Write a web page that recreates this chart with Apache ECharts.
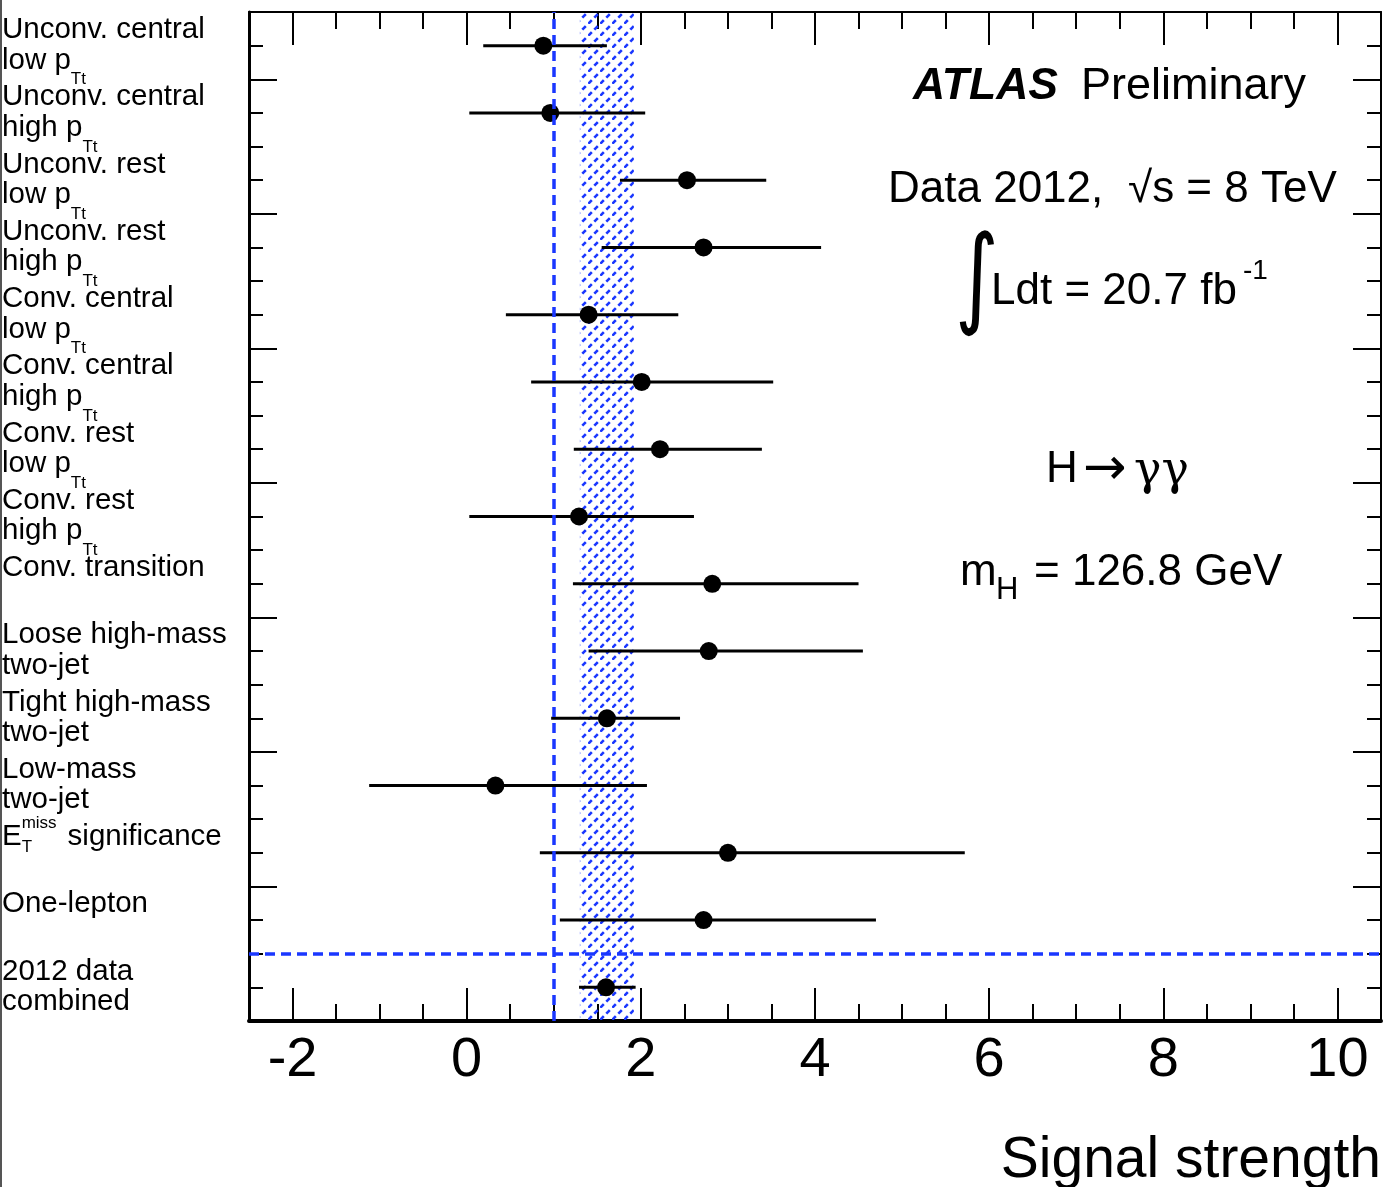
<!DOCTYPE html>
<html>
<head>
<meta charset="utf-8">
<script src="https://cdn.jsdelivr.net/npm/echarts@6/dist/echarts.min.js"></script>
<style>
html,body{margin:0;padding:0;background:#fff;}
#c{width:1385px;height:1187px;}
</style>
</head>
<body>
<div id="c"></div>
<script>
// ---------------- data ----------------
const categories = [
  'Unconv. central low pTt', 'Unconv. central high pTt', 'Unconv. rest low pTt', 'Unconv. rest high pTt',
  'Conv. central low pTt', 'Conv. central high pTt', 'Conv. rest low pTt', 'Conv. rest high pTt',
  'Conv. transition', 'Loose high-mass two-jet', 'Tight high-mass two-jet', 'Low-mass two-jet',
  'ETmiss significance', 'One-lepton', '2012 data combined'
];
const labelLine1 = ['Unconv. central','Unconv. central','Unconv. rest','Unconv. rest','Conv. central','Conv. central','Conv. rest','Conv. rest','Conv. transition','Loose high-mass','Tight high-mass','Low-mass','E','One-lepton','2012 data'];
const labelLine2 = ['low p','high p','low p','high p','low p','high p','low p','high p','','two-jet','two-jet','two-jet','','','combined'];
const labelSub = ['Tt','Tt','Tt','Tt','Tt','Tt','Tt','Tt','','','','','','',''];
const muCentral = [0.88, 0.96, 2.53, 2.72, 1.40, 2.01, 2.22, 1.29, 2.82, 2.78, 1.61, 0.33, 3.00, 2.72, 1.60];
const muLow     = [0.19, 0.03, 1.76, 1.55, 0.45, 0.74, 1.23, 0.03, 1.22, 1.40, 0.97, -1.12, 0.84, 1.07, 1.29];
const muHigh    = [1.61, 2.05, 3.44, 4.07, 2.43, 3.52, 3.39, 2.61, 4.50, 4.55, 2.45, 2.07, 5.72, 4.70, 1.94];
const combinedBand = [1.30, 1.92];
const smReference = 1;
const combinedSeparator = 1;
const xTicks = [-2, 0, 2, 4, 6, 8, 10];

// ---------------- style ----------------
const FONT = "'Liberation Sans', Arial, Helvetica, sans-serif";
const BLUE = '#1a37ff';
const tickStyle = {color: '#000', width: 2};

// hatch pattern for the combined band
const pc = document.createElement('canvas');
pc.width = 12; pc.height = 12;
const g = pc.getContext('2d');
g.strokeStyle = BLUE; g.lineWidth = 2.6;
function seg(x1, y1, x2, y2) { g.beginPath(); g.moveTo(x1, y1); g.lineTo(x2, y2); g.stroke(); }
seg(0.3, 11.7, 3.8, 8.2);
seg(6.3, 5.7, 9.8, 2.2);

const labelRich = {
  a:   {fontSize: 29.5, lineHeight: 30.5, fontFamily: FONT, color: '#000'},
  sub: {fontSize: 17, lineHeight: 30.5, verticalAlign: 'top', padding: [26, 0, 0, 0], fontFamily: FONT, color: '#000'},
  subT:{fontSize: 17, lineHeight: 30.5, verticalAlign: 'top', padding: [17, 0, 0, 0], width: 0, fontFamily: FONT, color: '#000'},
  sup: {fontSize: 17, lineHeight: 30.5, verticalAlign: 'top', height: 3.5, fontFamily: FONT, color: '#000'},
  sig: {fontSize: 29.5, lineHeight: 30.5, padding: [0, 0, 0, 11], fontFamily: FONT, color: '#000'}
};

function labelFormatter(value) {
  const i = categories.indexOf(value);
  let l1;
  if (value === 'ETmiss significance') {
    l1 = '{a|E}{subT|T}{sup|miss}{sig|significance}';
  } else {
    l1 = '{a|' + labelLine1[i] + '}';
  }
  let l2 = labelLine2[i] ? '{a|' + labelLine2[i] + '}' : '{a| }';
  if (labelSub[i]) l2 += '{sub|' + labelSub[i] + '}';
  return l1 + '\n' + l2;
}

function txt(text, x, y, size, extra) {
  return {
    type: 'text', x: x, y: y, silent: true,
    style: Object.assign({
      text: text, fill: '#000', fontSize: size, fontFamily: FONT,
      align: 'left', verticalAlign: 'middle', textAlign: 'left', textVerticalAlign: 'middle'
    }, extra || {})
  };
}

const chart = echarts.init(document.getElementById('c'), null, {renderer: 'canvas'});

const integral = txt('\u222B', 955, 285, 84, {fontFamily: "'DejaVu Sans', sans-serif"});
integral.scaleY = 1.3;

const option = {
  animation: false,
  backgroundColor: '#fff',
  grid: {left: 249, right: 4, top: 12, bottom: 166, containLabel: false, outerBoundsMode: 'none'},
  xAxis: [
    {
      type: 'value', min: -2.5, max: 10.5, position: 'bottom',
      name: 'Signal strength', nameLocation: 'end', nameGap: 0,
      nameTextStyle: {fontSize: 57, fontFamily: FONT, color: '#000', align: 'right', verticalAlign: 'top', padding: [112, 0, 0, 0]},
      axisLine: {show: true, onZero: false, lineStyle: {color: '#000', width: 4}},
      axisTick: {show: true, inside: true, length: 33, lineStyle: tickStyle, customValues: xTicks},
      axisLabel: {show: true, customValues: xTicks, fontSize: 56, fontFamily: FONT, color: '#000', margin: 12},
      splitLine: {show: false}
    },
    {
      type: 'value', min: -2.5, max: 10.5, interval: 0.5, position: 'bottom',
      axisLine: {show: false, onZero: false},
      axisTick: {show: true, inside: true, length: 17, lineStyle: tickStyle},
      axisLabel: {show: false}, splitLine: {show: false}
    },
    {
      type: 'value', min: -2.5, max: 10.5, position: 'top',
      axisLine: {show: true, onZero: false, lineStyle: {color: '#000', width: 2}},
      axisTick: {show: true, inside: true, length: 33, lineStyle: tickStyle, customValues: xTicks},
      axisLabel: {show: false}, splitLine: {show: false}
    },
    {
      type: 'value', min: -2.5, max: 10.5, interval: 0.5, position: 'top',
      axisLine: {show: false, onZero: false},
      axisTick: {show: true, inside: true, length: 17, lineStyle: tickStyle},
      axisLabel: {show: false}, splitLine: {show: false}
    }
  ],
  yAxis: [
    {
      type: 'value', min: 0, max: 15, interval: 2, position: 'left',
      axisLine: {show: true, onZero: false, lineStyle: {color: '#000', width: 3}},
      axisTick: {show: true, inside: true, length: 28, lineStyle: tickStyle},
      axisLabel: {show: false}, splitLine: {show: false}
    },
    {
      type: 'value', min: 0, max: 15, interval: 0.5, position: 'left',
      axisLine: {show: false, onZero: false},
      axisTick: {show: true, inside: true, length: 14, lineStyle: tickStyle},
      axisLabel: {show: false}, splitLine: {show: false}
    },
    {
      type: 'value', min: 0, max: 15, interval: 2, position: 'right',
      axisLine: {show: true, onZero: false, lineStyle: {color: '#000', width: 2}},
      axisTick: {show: true, inside: true, length: 28, lineStyle: tickStyle},
      axisLabel: {show: false}, splitLine: {show: false}
    },
    {
      type: 'value', min: 0, max: 15, interval: 0.5, position: 'right',
      axisLine: {show: false, onZero: false},
      axisTick: {show: true, inside: true, length: 14, lineStyle: tickStyle},
      axisLabel: {show: false}, splitLine: {show: false}
    },
    {
      type: 'category', position: 'left', inverse: true, data: categories,
      axisLine: {show: false, onZero: false}, axisTick: {show: false}, splitLine: {show: false},
      axisLabel: {
        interval: 0, align: 'left', margin: 247, padding: [0, 0, 1, 0],
        formatter: labelFormatter, rich: labelRich,
        fontSize: 29.5, fontFamily: FONT, color: '#000'
      }
    }
  ],
  graphic: [
    {type: 'rect', silent: true, shape: {x: 0, y: 0, width: 2, height: 1187}, style: {fill: '#555'}},
    txt('ATLAS', 913, 87, 44.5, {fontWeight: 'bold', fontStyle: 'italic'}),
    txt('Preliminary', 1081, 87, 45),
    txt('Data 2012,', 888, 189.5, 44),
    txt('\u221As = 8 TeV', 1128, 189.5, 44),
    integral,
    txt('Ldt = 20.7 fb', 991, 291.5, 44),
    txt('-1', 1243, 271, 28),
    txt('H', 1046, 470, 44),
    txt('\u2192', 1083, 470, 52, {fontFamily: "'DejaVu Sans', sans-serif"}),
    txt('\u03B3\u03B3', 1134, 472, 46, {fontFamily: "'DejaVu Serif', serif"}),
    txt('m', 960, 572.5, 44),
    txt('H', 996, 590, 31),
    txt('= 126.8 GeV', 1034, 572.5, 44)
  ],
  series: [
    {
      type: 'line', xAxisIndex: 0, yAxisIndex: 0, data: [], silent: true, z: 1,
      markArea: {
        silent: true,
        itemStyle: {color: {image: pc, repeat: 'repeat'}, opacity: 1},
        data: [[{xAxis: combinedBand[0]}, {xAxis: combinedBand[1]}]]
      },
      markLine: {
        silent: true, symbol: ['none', 'none'], label: {show: false},
        lineStyle: {color: BLUE, type: [10, 6], width: 3.5, opacity: 1},
        data: [{xAxis: smReference}, {yAxis: combinedSeparator}]
      }
    },
    {
      type: 'custom', xAxisIndex: 0, yAxisIndex: 4, z: 3, silent: true,
      encode: {x: [0, 1], y: 2},
      data: categories.map((c, i) => [muLow[i], muHigh[i], c]),
      renderItem: function (params, api) {
        const y = api.value(2);
        const p1 = api.coord([api.value(0), y]);
        const p2 = api.coord([api.value(1), y]);
        return {
          type: 'line',
          shape: {x1: p1[0], y1: p1[1], x2: p2[0], y2: p2[1]},
          style: {stroke: '#000', lineWidth: 3}
        };
      }
    },
    {
      type: 'scatter', xAxisIndex: 0, yAxisIndex: 4, z: 4, silent: true,
      symbol: 'circle', symbolSize: 18, itemStyle: {color: '#000', opacity: 1},
      data: categories.map((c, i) => [muCentral[i], c])
    }
  ]
};
chart.setOption(option);
</script>
</body>
</html>
